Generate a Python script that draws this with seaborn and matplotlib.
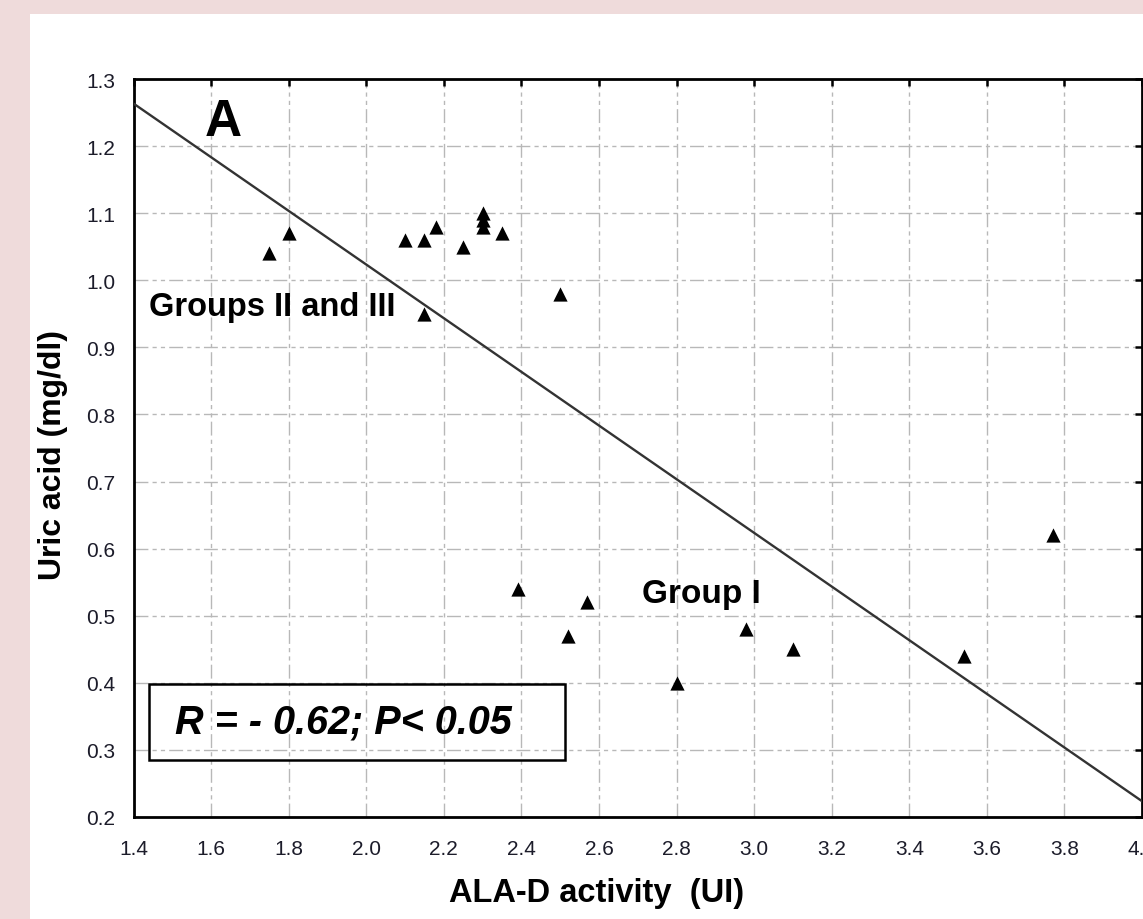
import numpy as np
import matplotlib
matplotlib.use('Agg')
import matplotlib.pyplot as plt
from matplotlib.patches import Rectangle
from matplotlib.ticker import FormatStrFormatter
import seaborn as sns

# values
ala_d = [1.75, 1.80, 2.10, 2.15, 2.18, 2.25, 2.30, 2.30, 2.30, 2.35,
         2.50, 2.15, 2.39, 2.57, 2.52, 2.80, 2.98, 3.10, 3.54, 3.77]
uric_acid = [1.04, 1.07, 1.06, 1.06, 1.08, 1.05, 1.10, 1.09, 1.08, 1.07,
             0.98, 0.95, 0.54, 0.52, 0.47, 0.40, 0.48, 0.45, 0.44, 0.62]
x_ticks = [1.4, 1.6, 1.8, 2.0, 2.2, 2.4, 2.6, 2.8, 3.0, 3.2, 3.4, 3.6, 3.8, 4.0]
y_ticks = [0.2, 0.3, 0.4, 0.5, 0.6, 0.7, 0.8, 0.9, 1.0, 1.1, 1.2, 1.3]
stat_text = 'R = - 0.62; P< 0.05'

sns.set_style('white')
plt.rcParams['font.family'] = ['Liberation Sans', 'DejaVu Sans']
plt.rcParams['text.color'] = 'black'
plt.rcParams['axes.labelcolor'] = 'black'

fig = plt.figure(figsize=(11.43, 9.2), dpi=100)
fig.patch.set_facecolor('#efdbdb')
# white panel behind the plot, pink margin left and top
fig.patches.append(Rectangle((30 / 1143, 0), 1 - 30 / 1143, 1 - 15 / 920,
                             transform=fig.transFigure, facecolor='white',
                             edgecolor='none', zorder=-10))

ax = fig.add_axes([133.5 / 1143, 102 / 920, 1008.5 / 1143, 738 / 920])
ax.set_facecolor('none')
ax.set_zorder(1)
ax.set_xlim(1.4, 4.0)
ax.set_ylim(0.2, 1.3)

sns.regplot(x=ala_d, y=uric_acid, ax=ax, ci=None, truncate=False, marker='^',
            scatter_kws=dict(color='black', alpha=1, s=105, linewidths=0, zorder=4),
            line_kws=dict(color='#333333', lw=1.7, zorder=3))

ax.set_xticks(x_ticks)
ax.set_yticks(y_ticks)
ax.xaxis.set_major_formatter(FormatStrFormatter('%.1f'))
ax.yaxis.set_major_formatter(FormatStrFormatter('%.1f'))
ax.tick_params(direction='in', length=5, width=1.8, labelsize=15,
               color='black', labelcolor='#1c1c2a', top=True, right=True)
ax.tick_params(axis='x', pad=16)
ax.tick_params(axis='y', pad=13)

ax.grid(True, color='#b8b8b8', lw=1, linestyle=(0, (10, 3, 3, 3, 3, 3)))
ax.set_axisbelow(True)
for side in ax.spines.values():
    side.set_color('black')
    side.set_linewidth(2)

ax.set_xlabel('ALA-D activity  (UI)', fontsize=23.5, fontweight='bold')
ax.set_ylabel('Uric acid (mg/dl)', fontsize=23, fontweight='bold')
ax.xaxis.set_label_coords(0.459, -0.081)
ax.yaxis.set_label_coords(-0.065, 0.492)

ax.text(1.584, 1.217, 'A', fontsize=37, fontweight='bold', ha='left', va='baseline')
ax.text(1.44, 0.948, 'Groups II and III', fontsize=23.5, fontweight='bold',
        ha='left', va='baseline')
ax.text(2.71, 0.521, 'Group I', fontsize=24, fontweight='bold',
        ha='left', va='baseline')

ax.add_patch(Rectangle((1.44, 0.285), 1.072, 0.113, fill=False,
                       edgecolor='black', lw=1.8, zorder=5))
ax.text(1.506, 0.342, stat_text, fontsize=28.5, fontweight='bold',
        fontstyle='italic', ha='left', va='center', zorder=6)

fig.savefig('out.png', dpi=100, facecolor=fig.get_facecolor())
